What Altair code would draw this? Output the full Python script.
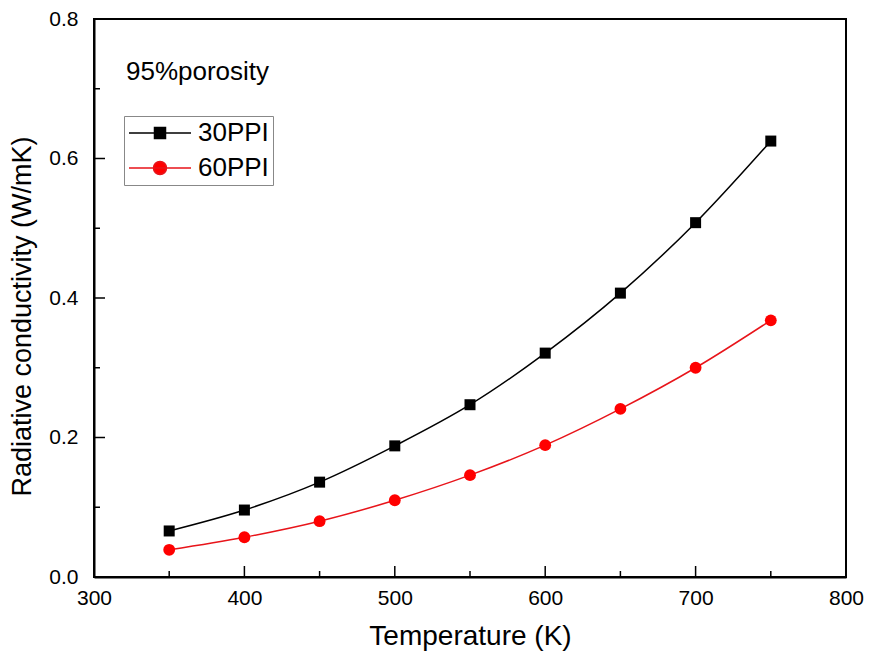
import altair as alt
import pandas as pd

# ---- data ----
temperature = [350, 400, 450, 500, 550, 600, 650, 700, 750]
ppi30 = [0.066, 0.096, 0.136, 0.188, 0.247, 0.321, 0.407, 0.508, 0.625]
ppi60 = [0.039, 0.057, 0.080, 0.110, 0.146, 0.189, 0.241, 0.300, 0.368]
series_names = ["30PPI", "60PPI"]
x_major = [300, 400, 500, 600, 700, 800]
x_minor = [350, 450, 550, 650, 750]
y_major = [0.0, 0.2, 0.4, 0.6, 0.8]
y_minor = [0.1, 0.3, 0.5, 0.7]
annotation = ["95%porosity"]
x_title = "Temperature (K)"
y_title = "Radiative conductivity (W/mK)"

W, H = 752, 558
FONT = "Liberation Sans"
BLACK = "#000000"
RED = "#ff0000"
RED_LINE = "#e8141a"

df = pd.DataFrame({
    "T": temperature * 2,
    "k": ppi30 + ppi60,
    "series": [series_names[0]] * len(temperature) + [series_names[1]] * len(temperature),
})

xs = alt.Scale(domain=[300, 800], nice=False, zero=False)
ys = alt.Scale(domain=[0, 0.8], nice=False)

x_axis = alt.Axis(values=x_major, format="d", ticks=False, tickSize=0, grid=False,
                  labelFontSize=21, labelFont=FONT, labelColor=BLACK, labelPadding=10,
                  labelFlush=False, title=x_title, titleFont=FONT, titleFontSize=28,
                  titleFontWeight="normal", titleColor=BLACK, titlePadding=14,
                  domainColor=BLACK, domainWidth=2)
y_axis = alt.Axis(values=y_major, format=".1f", ticks=False, tickSize=0, grid=False,
                  labelFontSize=21, labelFont=FONT, labelColor=BLACK, labelPadding=16,
                  labelFlush=False, title=y_title, titleFont=FONT, titleFontSize=27,
                  titleFontWeight="normal", titleColor=BLACK, titlePadding=12,
                  titleY=297, titleAlign="center",
                  domainColor=BLACK, domainWidth=2)


def X(field):
    return alt.X(field, scale=xs, axis=x_axis, title=x_title)


def Y(field):
    return alt.Y(field, scale=ys, axis=y_axis, title=y_title)


base = alt.Chart(df)

line30 = base.transform_filter(alt.datum.series == series_names[0]).mark_line(
    color=BLACK, strokeWidth=1.5, interpolate="monotone").encode(x=X("T:Q"), y=Y("k:Q"))
line60 = base.transform_filter(alt.datum.series == series_names[1]).mark_line(
    color=RED_LINE, strokeWidth=1.5, interpolate="monotone").encode(x=X("T:Q"), y=Y("k:Q"))
pts30 = base.transform_filter(alt.datum.series == series_names[0]).mark_point(
    shape="square", filled=True, size=121, color=BLACK, opacity=1).encode(x=X("T:Q"), y=Y("k:Q"))
pts60 = base.transform_filter(alt.datum.series == series_names[1]).mark_point(
    shape="circle", filled=True, size=140, color=RED, opacity=1).encode(x=X("T:Q"), y=Y("k:Q"))


# inward ticks
def xticks(vals, length):
    return alt.Chart(pd.DataFrame({"T": vals})).mark_rule(color=BLACK, strokeWidth=1.5).encode(
        x=X("T:Q"), y=alt.value(H), y2=alt.value(H - length))


def yticks(vals, length):
    return alt.Chart(pd.DataFrame({"k": vals})).mark_rule(color=BLACK, strokeWidth=1.5).encode(
        y=Y("k:Q"), x=alt.value(0), x2=alt.value(length))


ticks = [xticks(x_major, 11), xticks(x_minor, 6), yticks(y_major, 11), yticks(y_minor, 6)]

note = alt.Chart(pd.DataFrame({"t": annotation})).mark_text(
    align="left", baseline="middle", fontSize=26, font=FONT, color=BLACK).encode(
    text="t:N", x=alt.value(32), y=alt.value(53))

# legend (line + marker symbols)
sq = "M-3.1,0H3.1M-0.55,-0.55H0.55V0.55H-0.55Z"
ci = "M-3.1,0H3.1M0.65,0A0.65,0.65,0,1,1,-0.65,0A0.65,0.65,0,1,1,0.65,0Z"


def leg():
    return alt.Legend(title=None, orient="none", legendX=30, legendY=97,
                      strokeColor="#888888", padding=4, labelFont=FONT, labelFontSize=26,
                      labelColor=BLACK, symbolSize=400, symbolOffset=19, labelOffset=25,
                      rowPadding=9, symbolStrokeWidth=1.5, labelBaseline="middle")


legend_layer = base.transform_filter("false").mark_point(filled=True, opacity=1).encode(
    x=X("T:Q"), y=Y("k:Q"),
    fill=alt.Fill("series:N", scale=alt.Scale(domain=series_names, range=[BLACK, RED]), legend=leg()),
    stroke=alt.Stroke("series:N", scale=alt.Scale(domain=series_names, range=[BLACK, RED_LINE]), legend=leg()),
    shape=alt.Shape("series:N", scale=alt.Scale(domain=series_names, range=[sq, ci]), legend=leg()),
)

chart = alt.layer(line30, line60, pts30, pts60, *ticks, note, legend_layer).properties(
    width=W, height=H,
    autosize=alt.AutoSizeParams(type="none"),
    padding={"left": 86, "top": 11, "right": 18, "bottom": 76},
    background="white",
).configure_view(stroke=BLACK, strokeWidth=2)

chart.save("out.html", embed_options={"renderer": "svg", "actions": False})
